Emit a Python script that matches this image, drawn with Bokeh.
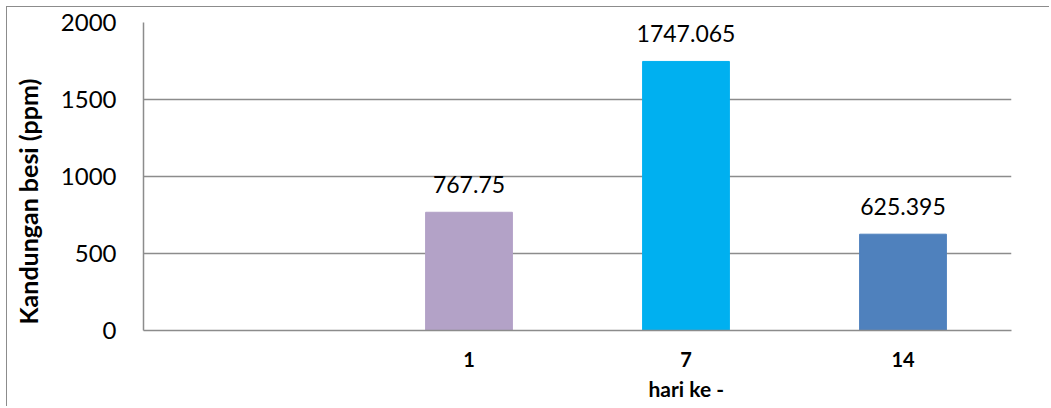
from bokeh.plotting import figure
from bokeh.models import Range1d, FixedTicker, ColumnDataSource, Title
from bokeh.embed import file_html
from bokeh.resources import INLINE
from bokeh.core.properties import value

categories = ["", "1", "7", "14"]
iron_ppm = [None, 767.75, 1747.065, 625.395]
bar_colors = [None, "#B3A2C7", "#00B0F0", "#4F81BD"]
y_ticks = [0, 500, 1000, 1500, 2000]

xs, tops, cols, labels = [], [], [], []
for i, (c, v, col) in enumerate(zip(categories, iron_ppm, bar_colors)):
    if v is None:
        continue
    xs.append(i)
    tops.append(v)
    cols.append(col)
    labels.append(str(v))
src = ColumnDataSource(dict(x=xs, top=tops, color=cols, label=labels))

GRAY = "#8c8c8c"

p = figure(width=1043, height=400, output_backend="svg", toolbar_location=None,
           x_range=Range1d(-0.5, len(categories) - 0.5), y_range=Range1d(0, 2000),
           min_border_left=132, min_border_right=39, min_border_top=15,
           min_border_bottom=77, title=None)
p.styles = {"margin-left": "6px", "margin-top": "6px",
            "border-left": "1px solid #8c8c8c", "border-top": "1px solid #8c8c8c"}
p.outline_line_color = None
p.background_fill_color = "white"
p.border_fill_color = "white"

p.vbar(x="x", top="top", width=0.4, color="color", source=src)
p.text(x="x", y="top", text="label", source=src, text_align="center",
       text_baseline="alphabetic", y_offset=-28, text_font=value("Lato"),
       text_font_size="23px", text_color="#000000")

xa = p.xaxis[0]
xa.ticker = FixedTicker(ticks=list(range(len(categories))))
xa.major_label_overrides = {i: c for i, c in enumerate(categories)}
xa.axis_line_color = GRAY
xa.axis_line_width = 1.5
xa.major_tick_line_color = None
xa.minor_tick_line_color = None
xa.major_label_text_font = "Lato"
xa.major_label_text_font_style = "bold"
xa.major_label_text_font_size = "20px"
xa.major_label_text_color = "#000000"
xa.major_label_standoff = 15

ya = p.yaxis[0]
ya.ticker = FixedTicker(ticks=y_ticks)
ya.axis_line_color = GRAY
ya.axis_line_width = 1.5
ya.major_tick_line_color = None
ya.minor_tick_line_color = None
ya.major_label_text_font = "Lato"
ya.major_label_text_font_size = "24px"
ya.major_label_text_color = "#000000"
ya.major_label_standoff = 21
ya.axis_label = " "
ya.axis_label_text_font_size = "1px"
ya.axis_label_standoff = 8

p.xgrid.grid_line_color = None
p.ygrid.grid_line_color = GRAY
p.ygrid.grid_line_width = 1.5

p.add_layout(Title(text="hari ke -", align="left", offset=505, text_font="Lato",
                   text_font_size="21px", text_font_style="bold", text_color="#000000",
                   standoff=9), "below")
p.add_layout(Title(text="Kandungan besi (ppm)", align="left", offset=6, text_font="Lato",
                   text_font_size="25px", text_font_style="bold", text_color="#000000",
                   standoff=6), "left")

open("out.html", "w").write(file_html(p, INLINE))
